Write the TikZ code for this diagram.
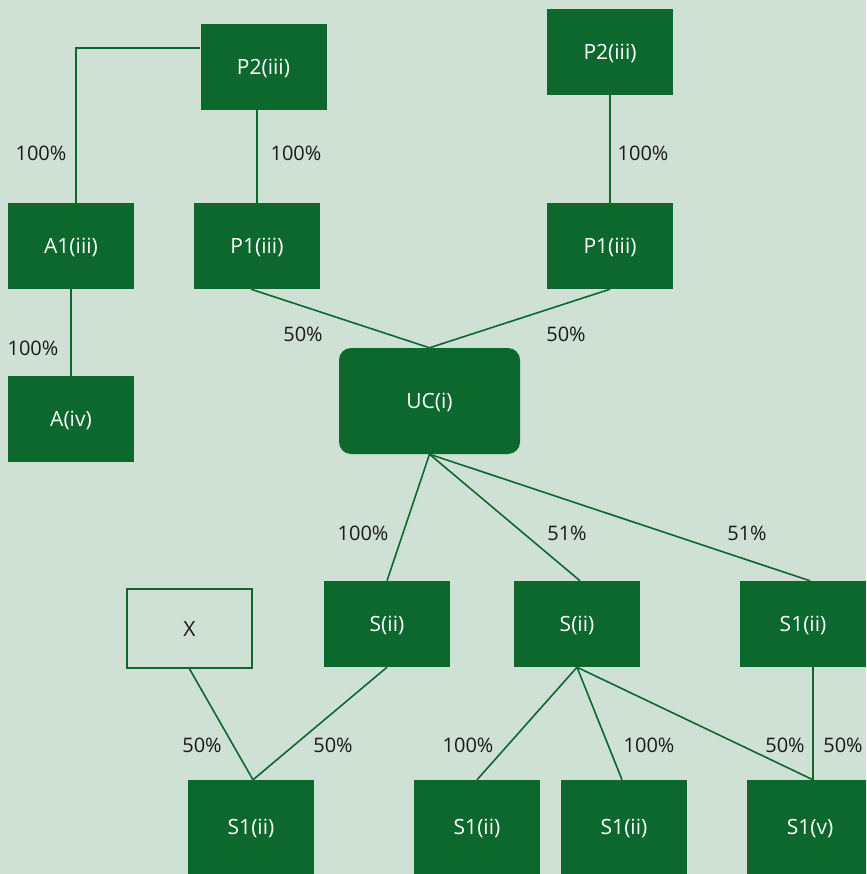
\documentclass[tikz,border=0pt]{standalone}
\usepackage{fontspec}
\setmainfont{Open Sans}
\definecolor{bgmint}{HTML}{CFE0D5}
\definecolor{boxgreen}{HTML}{0D682D}
\definecolor{labelink}{HTML}{1A1A1A}
\tikzset{
  entity/.style={fill=boxgreen, text=white, minimum width=126pt, minimum height=86pt, inner sep=0pt, text depth=0pt, font=\fontsize{21}{24}\selectfont},
  tallentity/.style={entity, minimum height=94pt},
  outsider/.style={draw=boxgreen, line width=1.8pt, fill=bgmint, text=labelink, minimum width=125pt, minimum height=79pt, font=\fontsize{21}{24}\selectfont},
  link/.style={draw=boxgreen, line width=1.6pt},
  share/.style={text=labelink, inner sep=0pt}
}
\begin{document}
\begin{tikzpicture}[x=1pt,y=-1pt,font=\fontsize{20}{24}\selectfont]
        % canvas
        \fill[bgmint] (0,0) rectangle (866,874);
        \useasboundingbox (0,0) rectangle (866,874);
        \clip (0,0) rectangle (866,874);
        % parents
        \node[entity] (P2a) at (263.5,67) {P2(iii)};
        \node[entity] (P2b) at (610,52) {P2(iii)};
        \node[entity] (A1) at (71,246) {A1(iii)};
        \node[entity] (P1a) at (257,246) {P1(iii)};
        \node[entity] (P1b) at (610,246) {P1(iii)};
        \node[entity] (A4) at (71,419) {A(iv)};
        % ultimate company
        \node[entity, minimum width=181pt, minimum height=106pt, rounded corners=12pt] (UC) at (429.5,401) {UC(i)};
        % subsidiaries
        \node[outsider] (X) at (189.5,628.5) {X};
        \node[entity] (Sa) at (387,624) {S(ii)};
        \node[entity] (Sb) at (577,624) {S(ii)};
        \node[entity] (S1c) at (803,624) {S1(ii)};
        \node[tallentity] (S1a) at (251,827) {S1(ii)};
        \node[tallentity] (S1b) at (477,827) {S1(ii)};
        \node[tallentity] (S1d) at (624,827) {S1(ii)};
        \node[tallentity] (S1v) at (810,827) {S1(v)};
        % ownership lines
        \draw[link] ([yshift=19pt]P2a.west) -| ([xshift=5pt]A1.north);
        \draw[link] ([xshift=-6.5pt]P2a.south) -- (P1a.north);
        \draw[link] (P2b.south) -- (P1b.north);
        \draw[link] (A1.south) -- (A4.north);
        \draw[link] ([xshift=-6pt]P1a.south) -- (UC.north);
        \draw[link] (P1b.south) -- (UC.north);
        \draw[link] (UC.south) -- (Sa.north);
        \draw[link] (UC.south) -- ([xshift=3pt]Sb.north);
        \draw[link] (UC.south) -- ([xshift=7pt]S1c.north);
        \draw[link] (X.south) -- ([xshift=2pt]S1a.north);
        \draw[link] (Sa.south) -- ([xshift=2pt]S1a.north);
        \draw[link] (Sb.south) -- (S1b.north);
        \draw[link] (Sb.south) -- ([xshift=-2pt]S1d.north);
        \draw[link] (Sb.south) -- ([xshift=3pt]S1v.north);
        \draw[link] ([xshift=10pt]S1c.south) -- ([xshift=3pt]S1v.north);
        % percentages
        \node[share] (l1) at (41,153) {100\%};
        \node[share] (l2) at (296,153) {100\%};
        \node[share] (l3) at (643,153) {100\%};
        \node[share] (l4) at (33,348) {100\%};
        \node[share] (l5) at (303,334) {50\%};
        \node[share] (l6) at (566,334) {50\%};
        \node[share] (l7) at (363,533) {100\%};
        \node[share] (l8) at (567,533) {51\%};
        \node[share] (l9) at (747,533) {51\%};
        \node[share] (l10) at (202,745) {50\%};
        \node[share] (l11) at (333,745) {50\%};
        \node[share] (l12) at (468,745) {100\%};
        \node[share] (l13) at (649,745) {100\%};
        \node[share] (l14) at (785,745) {50\%};
        \node[share] (l15) at (843,745) {50\%};
\end{tikzpicture}
\end{document}
